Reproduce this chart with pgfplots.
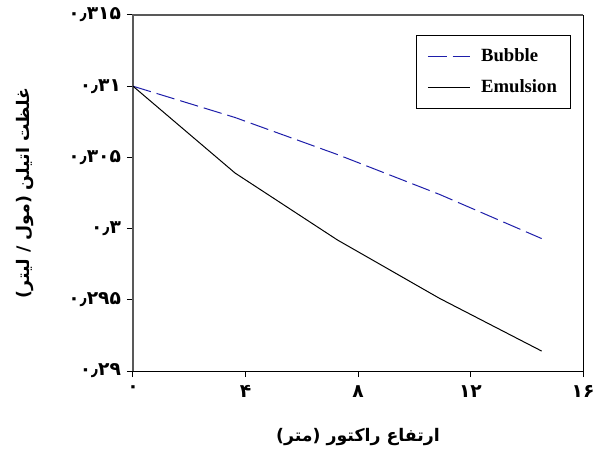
\documentclass[border=0pt]{standalone}
\usepackage{fontspec}
\usepackage{pgfplots}
\pgfplotsset{compat=1.18}
\setmainfont{Liberation Serif}
\newfontfamily\arabicfont[Script=Arabic]{DejaVu Sans}
\TeXXeTstate=1
\definecolor{bubblec}{RGB}{30,30,170}
\begin{document}
\begin{tikzpicture}
\useasboundingbox (-99.75pt,-61.5pt) rectangle (351.75pt,278.25pt);
\begin{axis}[
  at={(0pt,0pt)}, anchor=south west,
  scale only axis, width=337.5pt, height=267pt,
  xmin=0, xmax=16, ymin=0.29, ymax=0.315,
  xtick={0,4,8,12,16}, xticklabels={۰,۴,۸,۱۲,۱۶},
  ytick={0.29,0.295,0.3,0.305,0.31,0.315},
  yticklabels={۰٫۲۹,۰٫۲۹۵,۰٫۳,۰٫۳۰۵,۰٫۳۱,۰٫۳۱۵},
  tick align=outside, xtick pos=bottom, ytick pos=left,
  major tick length=4.5pt,
  tick style={black, line width=0.75pt},
  axis line style={draw=none},
  ticklabel style={font=\arabicfont\bfseries\fontsize{14}{16}\selectfont},
  xticklabel style={yshift=-3pt},
  yticklabel style={xshift=-1pt},
  every axis y label/.style={at={(axis description cs:0,0.5)}, xshift=-81pt, rotate=90, anchor=center,
     font=\arabicfont\bfseries\fontsize{13}{15}\selectfont},
  every axis x label/.style={at={(axis description cs:0.5,0)}, yshift=-49.5pt, anchor=center,
     font=\arabicfont\bfseries\fontsize{13}{15}\selectfont},
  ylabel={\beginR غلظت اتیلن (مول / لیتر)\endR},
  xlabel={\beginR ارتفاع راکتور (متر)\endR},
  legend style={at={(0.9727,0.9438)}, anchor=north east, draw=black, line width=0.75pt,
     font=\bfseries\fontsize{14}{16}\selectfont, inner xsep=8pt, inner ysep=8pt,
     row sep=8pt, /tikz/every odd column/.append style={column sep=6pt}},
  legend cell align=left,
  legend image code/.code={\draw[#1, line width=0.75pt] (0pt,0pt) -- (31.5pt,0pt);},
  clip=false,
]
\draw[black!65, line width=1pt] (rel axis cs:0,0) -- (rel axis cs:0,1) -- (rel axis cs:1,1);
\draw[black, line width=0.75pt] (rel axis cs:0,0) -- (rel axis cs:1,0) -- (rel axis cs:1,1);
\addplot[bubblec, line width=0.75pt, dash pattern=on 14pt off 4.5pt] coordinates {
  (0,0.3100) (3.63,0.3078) (7.27,0.3052) (10.9,0.3024) (14.53,0.2993)
};
\addlegendentry{Bubble}
\addplot[black, line width=0.75pt] coordinates {
  (0,0.3100) (3.63,0.3039) (7.27,0.2992) (10.9,0.2951) (14.53,0.2914)
};
\addlegendentry{Emulsion}
\end{axis}
\end{tikzpicture}
\end{document}
